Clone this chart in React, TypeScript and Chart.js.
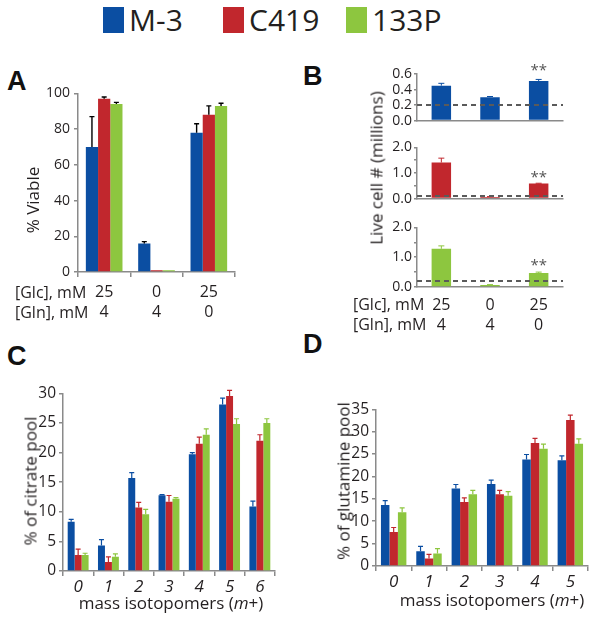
import React, { useEffect, useRef } from "react";
import { Chart, registerables } from "chart.js";

Chart.register(...registerables);

const FONT = "'Open Sans', 'DejaVu Sans', sans-serif";
Chart.defaults.font.family = FONT;

// ---------- data ----------
const SERIES_NAMES = ["M-3", "C419", "133P"];
const SERIES_COLORS = ["#0b4ea2", "#c1272d", "#8dc63f"];
const AXIS_COLOR = "#8a8a8a";
const TEXT_COLOR = "#231f20";

// Panel A / B conditions
const GLC_MM = ["25", "0", "25"];
const GLN_MM = ["4", "4", "0"];

// Panel A: % viable
const viableM3 = [70, 16, 78];
const viableC419 = [97, 1, 88];
const viable133P = [94, 1, 93];
const viableErrM3 = [17, 1, 5];
const viableErrC419 = [1, 0, 5];
const viableErr133P = [1, 0, 1.5];
const viableTicks = { min: 0, max: 100, step: 20 };

// Panel B: live cell number (millions)
const liveM3 = [0.45, 0.3, 0.51];
const liveErrM3 = [0.03, 0.01, 0.02];
const liveC419 = [1.41, 0.06, 0.59];
const liveErrC419 = [0.17, 0.02, 0.01];
const live133P = [1.28, 0.07, 0.47];
const liveErr133P = [0.1, 0.01, 0.03];
const baselineM3 = 0.2;
const baselineC419 = 0.1;
const baseline133P = 0.2;
const starsIndex = 2;
const starsLevelM3 = 0.7;
const starsLevelC419 = 1.01;
const starsLevel133P = 0.885;

// Panel C: % of citrate pool
const isotopomersC = ["0", "1", "2", "3", "4", "5", "6"];
const citrateM3 = [8.3, 4.3, 15.7, 12.8, 19.7, 28.1, 10.9];
const citrateErrM3 = [0.4, 1.0, 0.9, 0.1, 0.3, 1.1, 0.9];
const citrateC419 = [2.7, 1.5, 10.7, 11.7, 21.5, 29.55, 22.0];
const citrateErrC419 = [1.0, 0.9, 0.9, 1.05, 1.1, 0.95, 1.0];
const citrate133P = [2.7, 2.4, 9.6, 12.2, 23.0, 24.8, 25.0];
const citrateErr133P = [0.3, 0.5, 0.8, 0.2, 1.0, 0.9, 0.7];

// Panel D: % of glutamine pool
const isotopomersD = ["0", "1", "2", "3", "4", "5"];
const glutM3 = [13.6, 3.3, 17.3, 18.3, 23.8, 23.6];
const glutErrM3 = [1.0, 1.1, 0.9, 0.9, 1.1, 1.0];
const glutC419 = [7.6, 1.7, 14.3, 16.0, 27.5, 32.6];
const glutErrC419 = [1.0, 0.9, 0.9, 0.9, 1.0, 1.1];
const glut133P = [12.0, 2.8, 16.0, 15.7, 26.2, 27.3];
const glutErr133P = [1.0, 1.1, 0.9, 0.9, 1.0, 1.1];

// ---------- plugins ----------
const errorBarPlugin = {
  id: "errorBars",
  afterDatasetsDraw(chart: any) {
    const ctx = chart.ctx;
    const y = chart.scales.y;
    chart.data.datasets.forEach((ds: any, di: number) => {
      if (!ds.errors) return;
      const meta = chart.getDatasetMeta(di);
      meta.data.forEach((el: any, i: number) => {
        const e = ds.errors[i];
        if (!e || e <= 0) return;
        const yTop = y.getPixelForValue(ds.data[i] + e);
        const cap = ds.errorCap ?? 2.5;
        ctx.save();
        ctx.strokeStyle = ds.errorColor;
        ctx.lineWidth = ds.errorWidth ?? 1.2;
        ctx.beginPath();
        ctx.moveTo(el.x, el.y);
        ctx.lineTo(el.x, yTop);
        ctx.moveTo(el.x - cap, yTop);
        ctx.lineTo(el.x + cap, yTop);
        ctx.stroke();
        ctx.restore();
      });
    });
  },
};

const refLinePlugin = {
  id: "refLine",
  afterDatasetsDraw(chart: any, _a: any, opts: any) {
    if (!opts || opts.value === undefined) return;
    const ctx = chart.ctx;
    const yy = chart.scales.y.getPixelForValue(opts.value);
    const { left, right } = chart.chartArea;
    ctx.save();
    ctx.strokeStyle = "#5a5a5a";
    ctx.lineWidth = 2;
    ctx.setLineDash([5, 4]);
    ctx.beginPath();
    ctx.moveTo(left, yy);
    ctx.lineTo(right, yy);
    ctx.stroke();
    ctx.restore();
  },
};

const starsPlugin = {
  id: "stars",
  afterDatasetsDraw(chart: any, _a: any, opts: any) {
    if (!opts || opts.value === undefined) return;
    const ctx = chart.ctx;
    const el = chart.getDatasetMeta(0).data[opts.index];
    const yc = chart.scales.y.getPixelForValue(opts.value);
    const size = 15;
    ctx.save();
    ctx.fillStyle = "#555";
    ctx.font = `${size}px ${FONT}`;
    ctx.textAlign = "center";
    ctx.textBaseline = "alphabetic";
    ctx.fillText("**", el.x, yc + 0.6 * size);
    ctx.restore();
  },
};

// ---------- helpers ----------
type Area = { l: number; t: number; r: number; b: number };
type Frame = { left: number; top: number; width: number; height: number };
type Margins = { yw: number; padTop: number; padRight: number; xh: number; padBottom: number };

function frameFor(a: Area, m: Margins): Frame {
  return {
    left: a.l - m.yw,
    top: a.t - m.padTop,
    width: a.r - a.l + m.yw + m.padRight,
    height: a.b - a.t + m.padTop + m.xh + m.padBottom,
  };
}

type DS = { label: string; data: number[]; errors: number[]; color: string; errorColor: string };

function barConfig(o: {
  labels: any[];
  datasets: DS[];
  m: Margins;
  barPct: number;
  catPct: number;
  yMin: number;
  yMax: number;
  yStep: number;
  yFormat: (v: number) => string;
  yFontSize: number;
  yPad: number;
  yTick: number;
  xLabels: boolean;
  xTicks: boolean;
  xFont: any;
  xPad: number;
  errCap: number;
  errWidth: number;
  refLine?: any;
  stars?: any;
}) {
  return {
    type: "bar",
    data: {
      labels: o.labels,
      datasets: o.datasets.map((d) => ({
        label: d.label,
        data: d.data,
        backgroundColor: d.color,
        borderWidth: 0,
        barPercentage: o.barPct,
        categoryPercentage: o.catPct,
        errors: d.errors,
        errorColor: d.errorColor,
        errorCap: o.errCap,
        errorWidth: o.errWidth,
      })),
    },
    options: {
      responsive: false,
      maintainAspectRatio: false,
      animation: false,
      events: [],
      layout: { padding: { left: 0, top: o.m.padTop, right: o.m.padRight, bottom: o.m.padBottom } },
      plugins: {
        legend: { display: false },
        tooltip: { enabled: false },
        refLine: o.refLine ?? {},
        stars: o.stars ?? {},
      },
      scales: {
        x: {
          grid: {
            display: true,
            drawOnChartArea: false,
            drawTicks: o.xTicks,
            tickLength: 5,
            color: AXIS_COLOR,
            lineWidth: 1.5,
          },
          border: { display: true, color: AXIS_COLOR, width: 1.5 },
          ticks: {
            display: o.xLabels,
            font: o.xFont,
            color: TEXT_COLOR,
            padding: o.xPad,
            maxRotation: 0,
            autoSkip: false,
          },
          afterFit: (s: any) => {
            s.height = o.m.xh;
          },
        },
        y: {
          min: o.yMin,
          max: o.yMax,
          grid: {
            drawOnChartArea: false,
            drawTicks: true,
            tickLength: o.yTick,
            color: AXIS_COLOR,
            lineWidth: 1.5,
          },
          border: { display: true, color: AXIS_COLOR, width: 1.5 },
          ticks: {
            stepSize: o.yStep,
            autoSkip: false,
            font: { size: o.yFontSize },
            color: TEXT_COLOR,
            padding: o.yPad,
            callback: (v: any) => o.yFormat(Number(v)),
          },
          afterFit: (s: any) => {
            s.width = o.m.yw;
          },
        },
      },
    },
    plugins: [errorBarPlugin, refLinePlugin, starsPlugin],
  };
}

function ChartCanvas({ frame, make }: { frame: Frame; make: () => any }) {
  const ref = useRef<HTMLCanvasElement>(null);
  useEffect(() => {
    const chart = new Chart(ref.current as HTMLCanvasElement, make());
    return () => chart.destroy();
  }, []);
  return (
    <canvas
      ref={ref}
      width={frame.width}
      height={frame.height}
      style={{ position: "absolute", left: frame.left, top: frame.top, width: frame.width, height: frame.height }}
    />
  );
}

function Label({ x, y, size, children, align = "left", rotate = false }: any) {
  const base: any = {
    position: "absolute",
    fontFamily: FONT,
    fontSize: size,
    lineHeight: 1,
    whiteSpace: "nowrap",
    color: TEXT_COLOR,
  };
  if (rotate) {
    return (
      <div style={{ ...base, left: x, top: y, transform: "translate(-50%, -50%) rotate(-90deg)" }}>{children}</div>
    );
  }
  const tx = align === "center" ? "translateX(-50%)" : undefined;
  return <div style={{ ...base, left: x, top: y - 0.55 * size, transform: tx }}>{children}</div>;
}

function Letter({ x, capTop, children }: any) {
  const size = 27;
  return (
    <div
      style={{
        position: "absolute",
        left: x,
        top: capTop - 0.13 * size,
        fontFamily: "'Liberation Sans', Arial, sans-serif",
        fontWeight: 700,
        fontSize: size,
        lineHeight: 1,
        color: "#111",
      }}
    >
      {children}
    </div>
  );
}

const fmtInt = (v: number) => String(Math.round(v));
const fmt1 = (v: number) => v.toFixed(1);
const fmtWhole1 = (v: number) => (Math.abs(v - Math.round(v)) < 1e-6 ? v.toFixed(1) : "");

// ---------- layout ----------
const areaA: Area = { l: 78, t: 91, r: 235, b: 272 };
const mA: Margins = { yw: 60, padTop: 10, padRight: 6, xh: 50, padBottom: 0 };

const areaB1: Area = { l: 417, t: 74, r: 563, b: 126 };
const areaB2: Area = { l: 417, t: 146, r: 563, b: 204 };
const areaB3: Area = { l: 417, t: 226, r: 563, b: 287 };
const mB1: Margins = { yw: 34, padTop: 14, padRight: 6, xh: 1, padBottom: 4 };
const mB2: Margins = { yw: 34, padTop: 9, padRight: 6, xh: 1, padBottom: 4 };
const mB3: Margins = { yw: 34, padTop: 9, padRight: 6, xh: 50, padBottom: 0 };

const areaC: Area = { l: 63, t: 393, r: 275, b: 571 };
const mC: Margins = { yw: 42, padTop: 12, padRight: 6, xh: 30, padBottom: 0 };

const areaD: Area = { l: 376, t: 409, r: 588, b: 566 };
const mD: Margins = { yw: 42, padTop: 12, padRight: 5, xh: 30, padBottom: 0 };

const condLabels = GLC_MM.map((g, i) => [g, GLN_MM[i]]);

function series(values: number[][], errors: number[][], errColors: string[]): DS[] {
  return SERIES_NAMES.map((name, i) => ({
    label: name,
    data: values[i],
    errors: errors[i],
    color: SERIES_COLORS[i],
    errorColor: errColors[i],
  }));
}

const makeA = () =>
  barConfig({
    labels: condLabels,
    datasets: series(
      [viableM3, viableC419, viable133P],
      [viableErrM3, viableErrC419, viableErr133P],
      ["#000", "#000", "#000"]
    ),
    m: mA,
    barPct: 1,
    catPct: 0.7,
    yMin: viableTicks.min,
    yMax: viableTicks.max,
    yStep: viableTicks.step,
    yFormat: fmtInt,
    yFontSize: 14,
    yPad: 4,
    yTick: 4,
    xLabels: true,
    xTicks: true,
    xFont: { size: 16, lineHeight: 1.27 },
    xPad: 5,
    errCap: 2.5,
    errWidth: 1.4,
  });

const makeB =
  (data: number[], err: number[], ci: number, yMax: number, yStep: number, fmt: any, m: Margins, baseline: number, starLevel: number, last: boolean) =>
  () =>
    barConfig({
      labels: condLabels,
      datasets: [
        { label: SERIES_NAMES[ci], data, errors: err, color: SERIES_COLORS[ci], errorColor: SERIES_COLORS[ci] },
      ],
      m,
      barPct: 0.4,
      catPct: 1,
      yMin: 0,
      yMax,
      yStep,
      yFormat: fmt,
      yFontSize: 14,
      yPad: 2,
      yTick: 3,
      xLabels: last,
      xTicks: false,
      xFont: { size: 16, lineHeight: 1.27 },
      xPad: 8,
      errCap: 3,
      errWidth: 1,
      refLine: { value: baseline },
      stars: { index: starsIndex, value: starLevel },
    });

const makeC = () =>
  barConfig({
    labels: isotopomersC,
    datasets: series([citrateM3, citrateC419, citrate133P], [citrateErrM3, citrateErrC419, citrateErr133P], SERIES_COLORS),
    m: mC,
    barPct: 1,
    catPct: 0.69,
    yMin: 0,
    yMax: 30,
    yStep: 5,
    yFormat: fmtInt,
    yFontSize: 15.5,
    yPad: 3,
    yTick: 4,
    xLabels: true,
    xTicks: true,
    xFont: { size: 17, style: "italic", lineHeight: 1.1 },
    xPad: 2,
    errCap: 2.5,
    errWidth: 1.2,
  });

const makeD = () =>
  barConfig({
    labels: isotopomersD,
    datasets: series([glutM3, glutC419, glut133P], [glutErrM3, glutErrC419, glutErr133P], SERIES_COLORS),
    m: mD,
    barPct: 1,
    catPct: 0.72,
    yMin: 0,
    yMax: 35,
    yStep: 5,
    yFormat: fmtInt,
    yFontSize: 15.5,
    yPad: 3,
    yTick: 4,
    xLabels: true,
    xTicks: true,
    xFont: { size: 17, style: "italic", lineHeight: 1.1 },
    xPad: 2,
    errCap: 2.5,
    errWidth: 1.2,
  });

const legendX = [103, 223, 346];

export default function App() {
  const legendSize = 30;
  return (
    <div style={{ position: "absolute", left: 0, top: 0, width: 595, height: 619, background: "#fff", overflow: "hidden" }}>
      {/* Legend */}
      {SERIES_NAMES.map((name, i) => (
        <React.Fragment key={name}>
          <div style={{ position: "absolute", left: legendX[i], top: 7, width: 21, height: 26, background: SERIES_COLORS[i] }} />
          <div
            style={{
              position: "absolute",
              left: legendX[i] + 26,
              top: 21 - 0.531 * legendSize,
              fontFamily: FONT,
              fontSize: legendSize,
              lineHeight: 1,
              color: TEXT_COLOR,
              whiteSpace: "nowrap",
            }}
          >
            {name}
          </div>
        </React.Fragment>
      ))}

      {/* Panel letters */}
      <Letter x={7} capTop={72}>A</Letter>
      <Letter x={303} capTop={67}>B</Letter>
      <Letter x={7} capTop={347}>C</Letter>
      <Letter x={303} capTop={335}>D</Letter>

      {/* Panel A */}
      <ChartCanvas frame={frameFor(areaA, mA)} make={makeA} />
      <Label x={32} y={200} size={17} rotate>% Viable</Label>
      <Label x={15} y={293} size={16}>[Glc], mM</Label>
      <Label x={15} y={313} size={16}>[Gln], mM</Label>

      {/* Panel B */}
      <ChartCanvas frame={frameFor(areaB1, mB1)} make={makeB(liveM3, liveErrM3, 0, 0.6, 0.2, fmt1, mB1, baselineM3, starsLevelM3, false)} />
      <ChartCanvas frame={frameFor(areaB2, mB2)} make={makeB(liveC419, liveErrC419, 1, 2, 0.5, fmtWhole1, mB2, baselineC419, starsLevelC419, false)} />
      <ChartCanvas frame={frameFor(areaB3, mB3)} make={makeB(live133P, liveErr133P, 2, 2, 0.5, fmtWhole1, mB3, baseline133P, starsLevel133P, true)} />
      <Label x={376} y={168} size={17} rotate>Live cell # (millions)</Label>
      <Label x={353} y={305} size={16}>[Glc], mM</Label>
      <Label x={353} y={325} size={16}>[Gln], mM</Label>

      {/* Panel C */}
      <ChartCanvas frame={frameFor(areaC, mC)} make={makeC} />
      <Label x={30} y={481} size={17} rotate>% of citrate pool</Label>
      <Label x={171} y={603} size={17} align="center">mass isotopomers (<i>m</i>+)</Label>

      {/* Panel D */}
      <ChartCanvas frame={frameFor(areaD, mD)} make={makeD} />
      <Label x={343} y={481} size={17} rotate>% of glutamine pool</Label>
      <Label x={492} y={600} size={17} align="center">mass isotopomers (<i>m</i>+)</Label>
    </div>
  );
}
